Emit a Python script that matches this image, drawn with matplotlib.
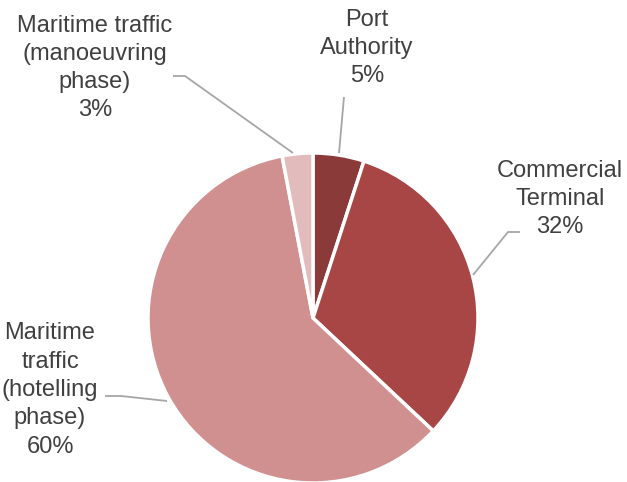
import matplotlib.pyplot as plt

plt.rcParams['font.family'] = ['Liberation Sans', 'DejaVu Sans']

# emission shares by source
sources = ['Port\nAuthority', 'Commercial\nTerminal', 'Maritime\ntraffic\n(hotelling\nphase)',
           'Maritime traffic\n(manoeuvring\nphase)']
shares = [5, 32, 60, 3]
colors = ['#8B3A3A', '#A84545', '#D09090', '#E2BCBC']

W, H = 627, 482
fig = plt.figure(figsize=(W / 100, H / 100), dpi=100)
ax = fig.add_axes([0, 0, 1, 1])

wedges, _ = ax.pie(shares, colors=colors, startangle=90, counterclock=False,
                   center=(313, H - 318), radius=165,
                   wedgeprops=dict(edgecolor='white', linewidth=2.5))

# label positions (x, y from top) and leader lines
label_pos = [(367, 48), (560, 199), (50, 390), (95, 68)]
leaders = [
    [(344, 97), (339, 153)],
    [(520, 232), (508, 232), (473, 275)],
    [(105, 396), (121, 396), (167, 401)],
    [(173, 76), (185, 76), (293, 153)],
]

for name, val, (x, y) in zip(sources, shares, label_pos):
    ax.text(x, H - y, f'{name}\n{val}%', ha='center', va='center',
            fontsize=17, color='#404040', linespacing=1.37)

for pts in leaders:
    xs = [p[0] for p in pts]
    ys = [H - p[1] for p in pts]
    ax.plot(xs, ys, color='#A6A6A6', linewidth=1.3, solid_capstyle='butt')

ax.set_xlim(0, W)
ax.set_ylim(0, H)
ax.set_aspect('equal')
ax.axis('off')

fig.savefig('out.png', dpi=100)
